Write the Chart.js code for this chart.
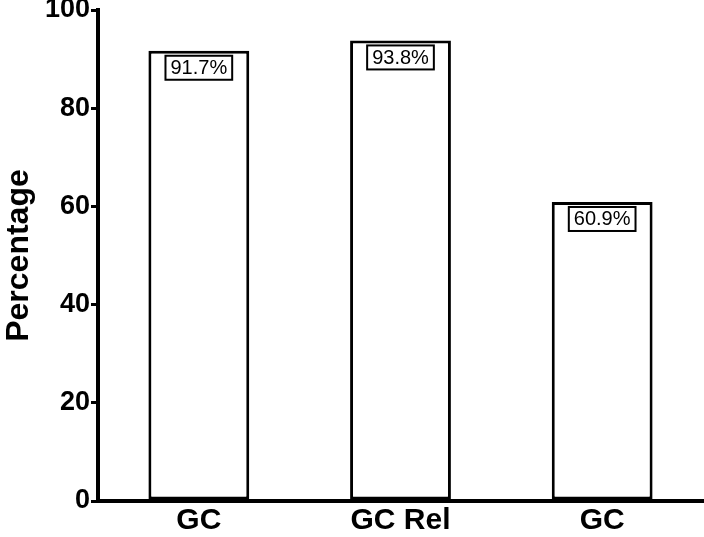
<!DOCTYPE html>
<html>
<head>
<meta charset="utf-8">
<script src="https://cdn.jsdelivr.net/npm/chart.js@4.4.1/dist/chart.umd.min.js"></script>
<style>
  html, body { margin: 0; padding: 0; background: #fff; }
  #wrap { width: 704px; height: 537px; position: relative; }
</style>
</head>
<body>
<div id="wrap"><canvas id="c"></canvas></div>
<script>
const categories = ['GC', 'GC Rel', 'GC'];
const values = [91.7, 93.8, 60.9];
const valueLabels = ['91.7%', '93.8%', '60.9%'];
const yTicks = [0, 20, 40, 60, 80, 100];

const FONT = '"Liberation Sans", Arial, Helvetica, sans-serif';

const boxLabels = {
  id: 'boxLabels',
  afterDatasetsDraw(chart) {
    const ctx = chart.ctx;
    const meta = chart.getDatasetMeta(0);
    ctx.save();
    ctx.font = '20px ' + FONT;
    ctx.textAlign = 'center';
    ctx.textBaseline = 'middle';
    meta.data.forEach((bar, i) => {
      const txt = valueLabels[i];
      const w = ctx.measureText(txt).width + 10;
      const h = 24;
      const x = bar.x - w / 2;
      const y = bar.y + 5;
      ctx.fillStyle = '#fff';
      ctx.fillRect(x, y, w, h);
      ctx.lineWidth = 2;
      ctx.strokeStyle = '#000';
      ctx.strokeRect(x, y, w, h);
      ctx.fillStyle = '#000';
      ctx.fillText(txt, bar.x, y + h / 2 + 1);
    });
    ctx.restore();
  }
};

new Chart(document.getElementById('c'), {
  type: 'bar',
  data: {
    labels: categories,
    datasets: [{
      data: values,
      backgroundColor: '#ffffff',
      borderColor: '#000000',
      borderWidth: 3,
      borderSkipped: false,
      categoryPercentage: 1.0,
      barPercentage: 0.5
    }]
  },
  options: {
    responsive: true,
    maintainAspectRatio: false,
    animation: false,
    layout: { padding: { top: 10, right: 1, left: 0, bottom: 0 } },
    plugins: {
      legend: { display: false },
      tooltip: { enabled: false }
    },
    scales: {
      x: {
        grid: { display: false, drawTicks: false },
        border: { display: true, color: '#000', width: 4 },
        ticks: {
          color: '#000',
          font: { family: FONT, size: 30, weight: 'bold' },
          padding: 2,
          maxRotation: 0
        },
        afterFit(scale) {
          scale.height = 36;
          scale.paddingLeft = 0;
          scale.paddingRight = 0;
        }
      },
      y: {
        min: 0,
        max: 100,
        afterBuildTicks(scale) {
          scale.ticks = yTicks.map(v => ({ value: v }));
        },
        grid: {
          display: true,
          drawOnChartArea: false,
          drawTicks: true,
          tickLength: 7,
          lineWidth: 3,
          color: '#000'
        },
        border: { display: true, color: '#000', width: 4 },
        ticks: {
          color: '#000',
          font: { family: FONT, size: 27, weight: 'bold' },
          padding: 1
        },
        title: {
          display: true,
          text: 'Percentage',
          color: '#000',
          font: { family: FONT, size: 32, weight: 'bold' },
          padding: { top: 0, bottom: 0 }
        },
        afterFit(scale) {
          scale.width = 98;
          scale.paddingTop = 0;
          scale.paddingBottom = 0;
        }
      }
    }
  },
  plugins: [boxLabels]
});
</script>
</body>
</html>
